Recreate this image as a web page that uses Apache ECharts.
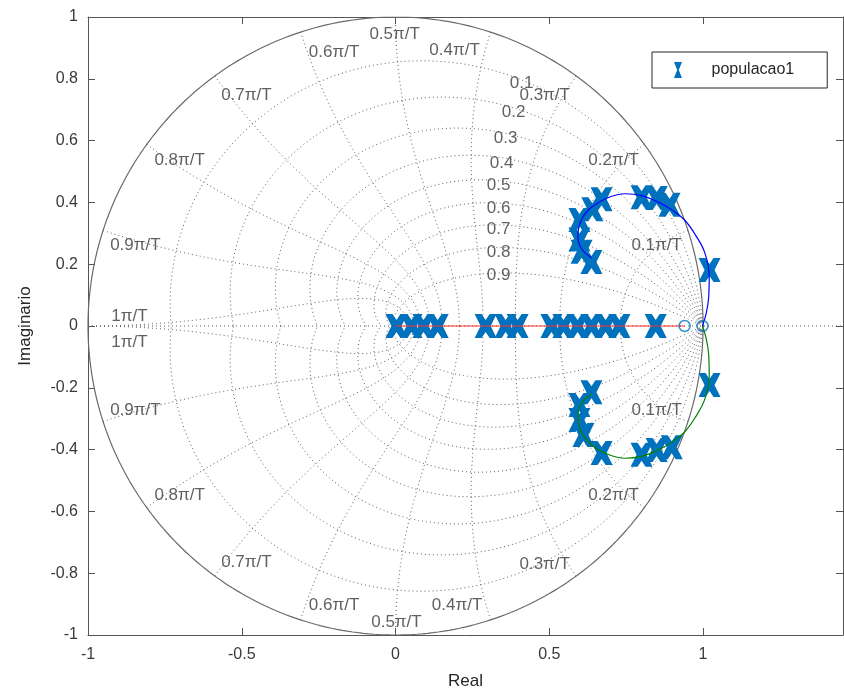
<!DOCTYPE html>
<html>
<head>
<meta charset="utf-8">
<script src="https://cdn.jsdelivr.net/npm/echarts@6/dist/echarts.min.js"></script>
<style>
  html, body { margin: 0; padding: 0; background: #fff; }
  #chart { width: 844px; height: 695px; }
</style>
</head>
<body>
<div id="chart"></div>
<script>
// Closed-loop poles found for each individual of the population
const realAxisPoles = [0.003, 0.052, 0.091, 0.137, 0.293, 0.358, 0.397, 0.507, 0.546, 0.592, 0.637, 0.683, 0.728, 0.846];
const upperPoles = [
  [0.670, 0.410], [0.640, 0.378], [0.598, 0.343], [0.598, 0.280], [0.605, 0.240],
  [0.637, 0.207], [0.800, 0.417], [0.849, 0.414], [0.891, 0.392], [1.021, 0.181]
];
const lowerPoles = [
  [0.637, -0.214], [0.598, -0.256], [0.598, -0.304], [0.611, -0.353], [0.670, -0.411],
  [0.800, -0.417], [0.849, -0.401], [0.898, -0.392], [1.021, -0.191]
];
// Open-loop zeros
const openLoopZeros = [0.94, 0.998];

// Root-locus branches
const branchUpper = [
  [0.638, 0.220], [0.605, 0.250], [0.593, 0.290], [0.605, 0.345], [0.638, 0.385],
  [0.690, 0.415], [0.746, 0.428], [0.800, 0.422], [0.856, 0.400], [0.900, 0.375],
  [0.940, 0.343], [0.975, 0.295], [1.006, 0.236], [1.020, 0.160], [1.018, 0.090],
  [1.010, 0.040], [0.998, 0.000]
];
const branchLower = [
  [0.638, -0.220], [0.605, -0.250], [0.593, -0.290], [0.605, -0.345], [0.638, -0.385],
  [0.690, -0.415], [0.746, -0.428], [0.800, -0.422], [0.856, -0.400], [0.900, -0.375],
  [0.940, -0.343], [0.975, -0.295], [1.006, -0.236], [1.020, -0.160], [1.018, -0.090],
  [1.010, -0.040], [0.998, 0.000]
];
const branchReal = [[0.0, 0.0], [0.94, 0.0]];

// z-plane grid: damping ratios and natural frequencies (times pi/T)
const dampingRatios = [0.1, 0.2, 0.3, 0.4, 0.5, 0.6, 0.7, 0.8, 0.9];
const naturalFreqs = [0.1, 0.2, 0.3, 0.4, 0.5, 0.6, 0.7, 0.8, 0.9, 1.0];

// Grid label text and placement
const dampingLabels = [
  ['0.1', 0.410, 0.786], ['0.2', 0.384, 0.690], ['0.3', 0.358, 0.609], ['0.4', 0.345, 0.528],
  ['0.5', 0.335, 0.456], ['0.6', 0.335, 0.382], ['0.7', 0.335, 0.314], ['0.8', 0.335, 0.240],
  ['0.9', 0.335, 0.165]
];
const freqLabels = [
  ['0.5\u03c0/T', -0.003, 0.945], ['0.4\u03c0/T', 0.192, 0.893], ['0.6\u03c0/T', -0.200, 0.887],
  ['0.7\u03c0/T', -0.485, 0.748], ['0.3\u03c0/T', 0.485, 0.748], ['0.8\u03c0/T', -0.702, 0.537],
  ['0.2\u03c0/T', 0.709, 0.537], ['0.9\u03c0/T', -0.846, 0.262], ['0.1\u03c0/T', 0.849, 0.262],
  ['1\u03c0/T', -0.865, 0.032], ['1\u03c0/T', -0.865, -0.052],
  ['0.9\u03c0/T', -0.846, -0.272], ['0.1\u03c0/T', 0.849, -0.272], ['0.8\u03c0/T', -0.702, -0.547],
  ['0.2\u03c0/T', 0.709, -0.547], ['0.7\u03c0/T', -0.485, -0.764], ['0.3\u03c0/T', 0.485, -0.770],
  ['0.6\u03c0/T', -0.200, -0.903], ['0.4\u03c0/T', 0.200, -0.903], ['0.5\u03c0/T', 0.003, -0.958]
];

const X_MIN = -1, X_MAX = 1.455, Y_MIN = -1, Y_MAX = 1;
const FONT = '"Liberation Sans", Arial, Helvetica, sans-serif';
const TEXT_COLOR = '#3a3a3a';
const GRID_COLOR = '#5e5e5e';
const BLUE = '#0072BD';

// Build the dotted grid curves of the z-plane
function dampingCurve(zeta, sign) {
  const m = zeta / Math.sqrt(1 - zeta * zeta);
  const pts = [];
  const n = 160;
  for (let i = 0; i <= n; i++) {
    const th = Math.PI * i / n;
    const r = Math.exp(-m * th);
    pts.push([r * Math.cos(th), sign * r * Math.sin(th)]);
  }
  return pts;
}
function freqCurve(w, sign) {
  const wt = w * Math.PI;
  const pts = [];
  const n = 100;
  for (let i = 0; i <= n; i++) {
    const z = i / n;
    const r = Math.exp(-z * wt);
    const a = wt * Math.sqrt(1 - z * z);
    pts.push([r * Math.cos(a), sign * r * Math.sin(a)]);
  }
  return pts;
}
function unitCircle() {
  const pts = [];
  for (let i = 0; i <= 360; i++) {
    const a = 2 * Math.PI * i / 360;
    pts.push([Math.cos(a), Math.sin(a)]);
  }
  return pts;
}

const dotted = { color: GRID_COLOR, width: 1, type: [1, 3] };
const gridSeries = [];
function addGridLine(pts) {
  gridSeries.push({
    type: 'line', data: pts, showSymbol: false, silent: true,
    lineStyle: dotted, z: 1, animation: false
  });
}
dampingRatios.forEach(function (z) { addGridLine(dampingCurve(z, 1)); addGridLine(dampingCurve(z, -1)); });
naturalFreqs.forEach(function (w) { addGridLine(freqCurve(w, 1)); addGridLine(freqCurve(w, -1)); });
addGridLine([[X_MIN, 0], [X_MAX, 0]]);
gridSeries.push({
  type: 'line', data: unitCircle(), showSymbol: false, silent: true,
  lineStyle: { color: '#6a6a6a', width: 1.2 }, z: 2, animation: false
});

function textSeries(items) {
  return {
    type: 'scatter', silent: true, symbolSize: 0, z: 3, animation: false,
    data: items.map(function (t) { return { name: t[0], value: [t[1], t[2]] }; }),
    label: {
      show: true, position: 'inside', formatter: function (p) { return p.name; },
      color: '#383838', fontSize: 17, fontFamily: FONT
    }
  };
}

// Heavy "x" marker with notched sides
const crossPath = 'path://M0,0 L7,0 L11,6 L15,0 L22,0 L16,12 L22,24 L15,24 L11,18 L7,24 L0,24 L6,12 Z';
const legendIcon = 'path://M0,0 L10,0 L6,10 L10,20 L0,20 L4,10 Z';

const allPoles = realAxisPoles.map(function (x) { return [x, 0]; }).concat(upperPoles, lowerPoles);

const axisLine = { show: true, onZero: false, lineStyle: { color: '#555', width: 1 } };
const tickIn = { show: true, inside: true, length: 7, lineStyle: { color: '#555' } };

const option = {
  backgroundColor: '#fff',
  animation: false,
  grid: { left: 88, top: 17, right: 1, bottom: 60, containLabel: false },
  legend: {
    data: ['populacao1'],
    left: 652, top: 52,
    orient: 'vertical',
    padding: [10, 33, 10, 22],
    itemWidth: 9, itemHeight: 16,
    icon: legendIcon,
    borderColor: '#262626', borderWidth: 1, borderRadius: 0,
    backgroundColor: '#fff',
    textStyle: { fontSize: 16, color: '#262626', fontFamily: FONT, padding: [0, 0, 0, 24] }
  },
  xAxis: [
    {
      type: 'value', min: X_MIN, max: X_MAX, interval: 0.5,
      name: 'Real', nameLocation: 'middle', nameGap: 38,
      nameTextStyle: { fontSize: 17, color: '#262626', fontFamily: FONT },
      axisLine: axisLine, axisTick: tickIn, splitLine: { show: false },
      axisLabel: { color: TEXT_COLOR, fontSize: 16, fontFamily: FONT, margin: 12, showMaxLabel: false }
    },
    {
      type: 'value', position: 'top', min: X_MIN, max: X_MAX, interval: 0.5,
      axisLine: axisLine, axisTick: tickIn, splitLine: { show: false },
      axisLabel: { show: false }
    }
  ],
  yAxis: [
    {
      type: 'value', min: Y_MIN, max: Y_MAX, interval: 0.2,
      name: 'Imaginario', nameLocation: 'middle', nameGap: 54, nameRotate: 90,
      nameTextStyle: { fontSize: 17, color: '#262626', fontFamily: FONT },
      axisLine: axisLine, axisTick: tickIn, splitLine: { show: false },
      axisLabel: {
        color: TEXT_COLOR, fontSize: 16, fontFamily: FONT, margin: 10,
        formatter: function (v) { return String(Math.round(v * 10) / 10); }
      }
    },
    {
      type: 'value', position: 'right', min: Y_MIN, max: Y_MAX, interval: 0.2,
      axisLine: axisLine, axisTick: tickIn, splitLine: { show: false },
      axisLabel: { show: false }
    }
  ],
  series: gridSeries.concat([
    textSeries(dampingLabels),
    textSeries(freqLabels),
    {
      name: 'populacao1', type: 'scatter', data: allPoles,
      symbol: crossPath, symbolSize: [22, 24], z: 5,
      itemStyle: { color: BLUE, opacity: 1 }
    },
    {
      type: 'line', data: branchUpper, smooth: 0.4, showSymbol: false, z: 6,
      lineStyle: { color: '#0000ff', width: 1.2 }
    },
    {
      type: 'line', data: branchLower, smooth: 0.4, showSymbol: false, z: 6,
      lineStyle: { color: '#008000', width: 1.2 }
    },
    {
      type: 'line', data: branchReal, showSymbol: false, z: 6,
      lineStyle: { color: '#ff3030', width: 1.2 }
    },
    {
      type: 'scatter', data: openLoopZeros.map(function (x) { return [x, 0]; }),
      symbol: 'circle', symbolSize: 11, z: 7,
      itemStyle: { color: 'rgba(0,0,0,0)', borderColor: BLUE, borderWidth: 1.5 }
    }
  ])
};

const chart = echarts.init(document.getElementById('chart'), null, { renderer: 'canvas' });
chart.setOption(option);
</script>
</body>
</html>
